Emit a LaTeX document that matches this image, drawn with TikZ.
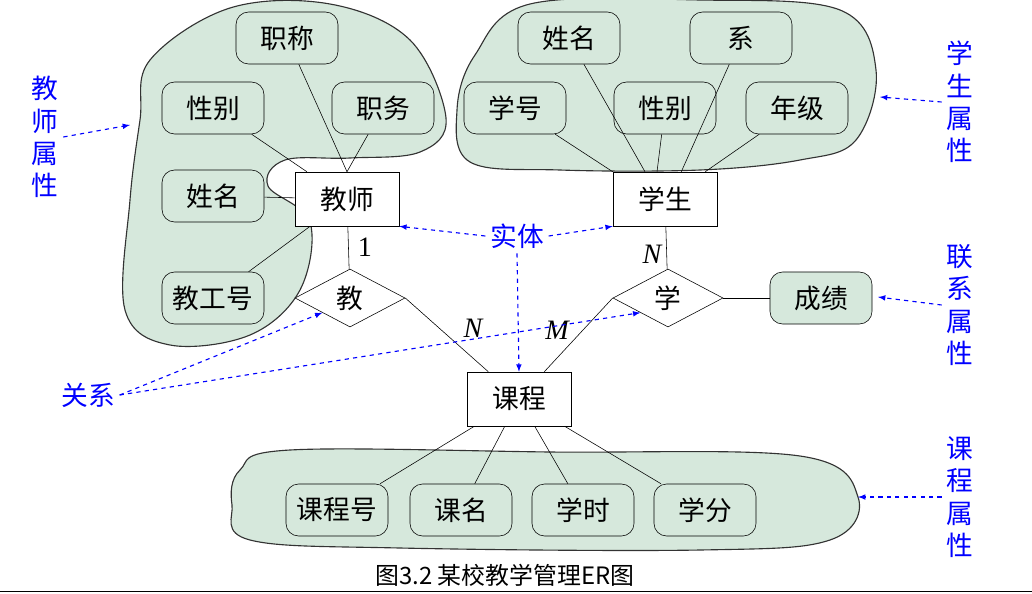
\documentclass[tikz,border=0pt]{standalone}
\usepackage{fontspec}
\setmainfont{Liberation Serif}
\newfontfamily\cjk{Noto Sans CJK SC}
\usetikzlibrary{arrows,shapes.geometric}
\definecolor{blobgreen}{RGB}{214,232,220}

\begin{document}
\begin{tikzpicture}[x=0.025cm,y=-0.025cm,font=\cjk\fontsize{19}{21}\selectfont]
\tikzstyle{entity} = [rectangle, draw, fill=white, minimum width=2.6cm, minimum height=1.35cm, inner sep=1pt]
\tikzstyle{attr} = [rectangle, draw, fill=blobgreen, rounded corners=9pt, minimum width=2.55cm, minimum height=1.3cm, inner sep=1pt]
\tikzstyle{rel} = [diamond, draw, fill=white, minimum width=2.75cm, minimum height=1.45cm, inner sep=0pt, aspect=2]
\tikzstyle{blob} = [draw=black!80, fill=blobgreen, thick]
\tikzstyle{note} = [text=blue, align=center, font=\cjk\fontsize{19}{23}\selectfont]
\tikzstyle{pointer} = [draw=blue, dashed, thick, -latex]
\useasboundingbox (0,0) rectangle (1032,593);

% attribute groups
\draw[blob] plot[smooth cycle, tension=0.6] coordinates {(150,60) (230,8) (330,4) (410,40) (446,118) (420,152) (350,158) (285,160) (268,186) (310,222) (300,290) (250,335) (170,345) (125,310) (130,200) (140,120)};
\draw[blob] plot[smooth cycle, tension=0.6] coordinates {(475,55) (530,4) (700,0) (840,10) (876,70) (856,140) (800,160) (700,170) (560,170) (470,162) (457,110)};
\draw[blob] plot[smooth cycle, tension=0.6] coordinates {(240,470) (290,450) (550,452) (800,456) (858,497) (830,540) (700,550) (400,548) (250,540) (232,505)};

% entities
\node [entity] (teacher) at (347,199) {教师};
\node [entity] (student) at (665,199) {学生};
\node [entity] (course) at (519,399) {课程};

% relationships
\node [rel] (teach) at (350,298) {教};
\node [rel] (learn) at (668,298) {学};

% teacher attributes
\node [attr] (title) at (287,38) {职称};
\node [attr] (tsex) at (213,108) {性别};
\node [attr] (duty) at (383,108) {职务};
\node [attr] (tname) at (213,196) {姓名};
\node [attr] (tno) at (213,298) {教工号};

% student attributes
\node [attr] (sname) at (569,38) {姓名};
\node [attr] (dept) at (741,38) {系};
\node [attr] (sno) at (515,108) {学号};
\node [attr] (ssex) at (665,108) {性别};
\node [attr] (grade) at (797,108) {年级};
\node [attr] (score) at (821,298) {成绩};

% course attributes
\node [attr] (cno) at (337,510) {课程号};
\node [attr] (cname) at (461,510) {课名};
\node [attr] (hours) at (583,510) {学时};
\node [attr] (credit) at (705,510) {学分};

\draw (title) -- (teacher.north);
\draw (duty) -- (teacher.north);
\draw (tsex) -- (teacher);
\draw (tname) -- (teacher);
\draw (tno) -- (teacher);
\draw (sname) -- ([xshift=-0.5cm]student.north);
\draw (sno) -- (student.north west);
\draw (ssex) -- ([xshift=-0.2cm]student.north);
\draw (grade) -- ([xshift=-0.3cm]student.north east);
\draw (dept) -- ([xshift=-0.9cm]student.north east);
\draw (teacher) -- (teach);
\draw (teach.east) -- (course);
\draw (student) -- (learn);
\draw (learn.west) -- (course);
\draw (learn) -- (score);
\foreach \a in {cno,cname,hours,credit} \draw (course) -- (\a);

\node [font=\fontsize{20}{20}\selectfont] at (365,247) {1};
\node [font=\itshape\fontsize{20}{20}\selectfont] at (652,254) {N};
\node [font=\itshape\fontsize{20}{20}\selectfont] at (473,328) {N};
\node [font=\itshape\fontsize{20}{20}\selectfont] at (557,330) {M};

% notes
\node [note] (nteach) at (45,137) {教\\师\\属\\性};
\node [note] (nstud) at (960,102) {学\\生\\属\\性};
\node [note] (nlink) at (960,305) {联\\系\\属\\性};
\node [note] (ncourse) at (960,497) {课\\程\\属\\性};
\node [note] (nentity) at (517,236) {实体};
\node [note] (nrel) at (88,395) {关系};
\coordinate (c1) at (130,125);
\coordinate (c2) at (880,97);
\coordinate (c3) at (878,297);
\coordinate (c4) at (858,497);
\draw [pointer] (nteach.east) -- (c1);
\draw [pointer] (nstud.west) -- (c2);
\draw [pointer] (nlink.west) -- (c3);
\draw [pointer] (ncourse.west) -- (c4);
\draw [pointer] (nentity.west) -- (teacher.south east);
\draw [pointer] (nentity.east) -- (student.south west);
\draw [pointer] (nentity.south) -- (course.north);
\draw [pointer] (nrel.east) -- (teach.south west);
\draw [pointer] (nrel.east) -- (learn.south west);

\node [font=\cjk\fontsize{17}{17}\selectfont] (caption) at (505,575) {图3.2 某校教学管理ER图};
\draw (0,591) -- (1032,591);
\end{tikzpicture}
\end{document}
